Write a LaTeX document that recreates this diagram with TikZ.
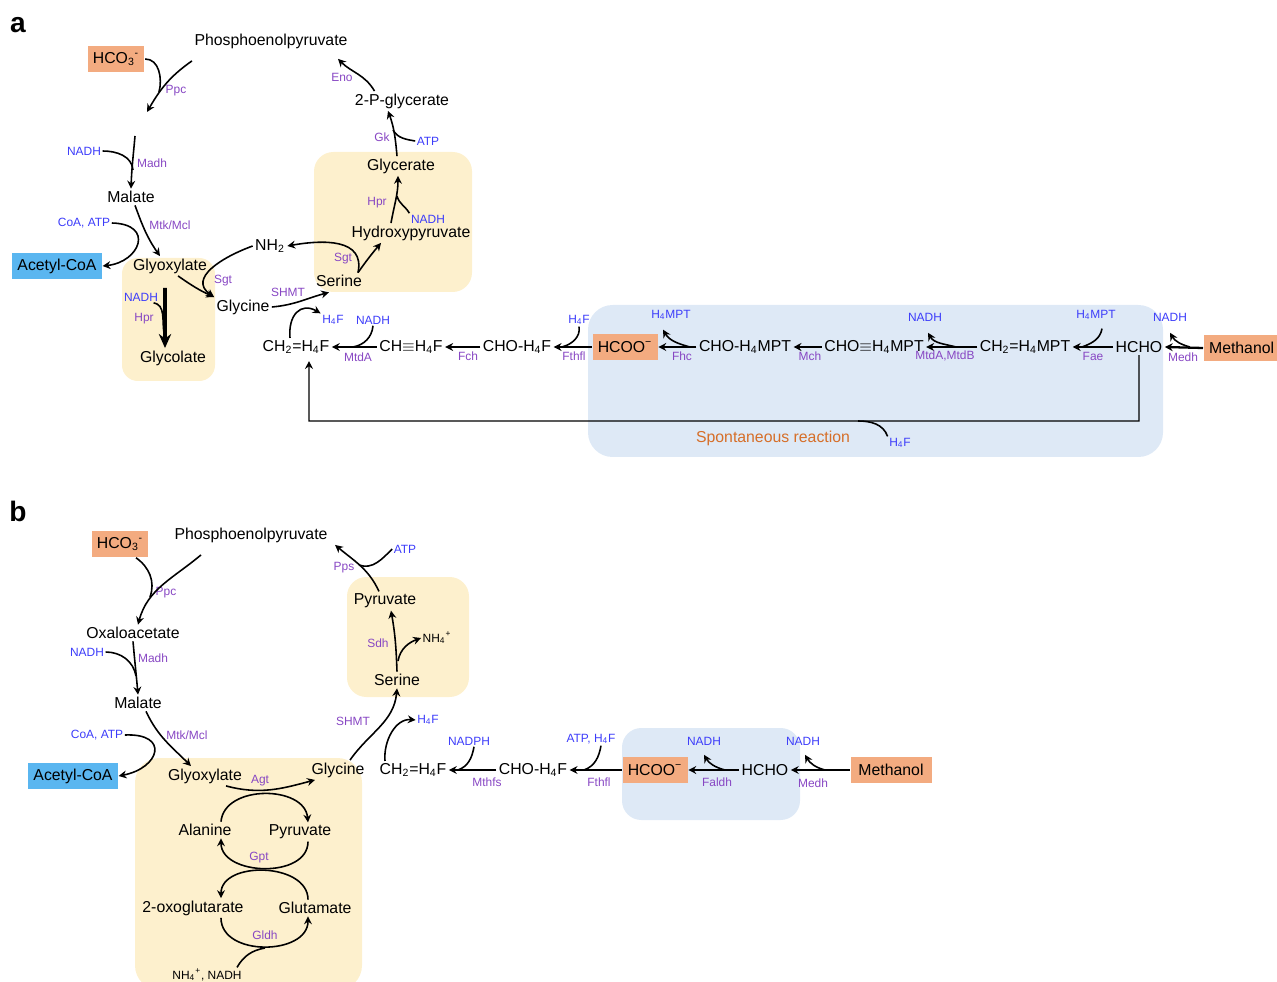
\documentclass[tikz,border=0pt]{standalone}
\usepackage{fontspec}
\setmainfont{Liberation Sans}
\usepackage{tikz}
\usetikzlibrary{calc, arrows.meta}
\usepackage{xcolor}
\definecolor{metOrange}{RGB}{243, 171, 128}
\definecolor{metBlue}{RGB}{90, 182, 240}
\definecolor{bgYellow}{RGB}{253, 240, 205}
\definecolor{bgBlue}{RGB}{222, 233, 246}
\definecolor{enzPurple}{RGB}{135, 70, 195}
\definecolor{cofBlue}{RGB}{60, 60, 250}
\definecolor{spontOrange}{RGB}{214, 110, 40}
\newcommand{\chsub}[1]{\textsubscript{#1}}
\newcommand{\chsup}[1]{\textsuperscript{#1}}

\begin{document}
\begin{tikzpicture}[x=0.02cm, y=0.02cm, line width=0.9pt,
  >={Stealth[length=4.5pt, width=4.5pt, inset=1.5pt]},
  met/.style={inner sep=1pt, font=\fontsize{9}{10}\selectfont},
  metbox/.style={met, fill=#1, inner xsep=3pt, minimum height=0.52cm},
  enz/.style={inner sep=0.5pt, font=\fontsize{6.8}{8}\selectfont, text=enzPurple},
  cof/.style={inner sep=0.5pt, font=\fontsize{6.8}{8}\selectfont, text=cofBlue},
  side/.style={inner sep=0.5pt, font=\fontsize{6.8}{8}\selectfont},
  chain/.style={->, line width=1.3pt},
  panel/.style={font=\fontsize{16}{16}\selectfont\bfseries}]
  \useasboundingbox (0,0) rectangle (1277,-982);

  % Shaded regions
  \fill[bgYellow, rounded corners=9pt] (122,-258) rectangle (215,-381);
  \fill[bgYellow, rounded corners=11pt] (314,-152) rectangle (472,-292);
  \fill[bgBlue, rounded corners=14pt] (588,-305) rectangle (1163,-457);
  \fill[bgYellow, rounded corners=11pt] (347,-577) rectangle (469,-697);
  \fill[bgYellow, rounded corners=14pt] (135,-758) rectangle (362,-990);
  \fill[bgBlue, rounded corners=11pt] (622,-728) rectangle (800,-820);

  % ---------------- Panel a ----------------
  \node[panel] (laba) at (18,-25) {a};
  \node[metbox=metOrange] (hco3a) at (116,-59) {HCO\chsub{3}\chsup{-}};
  \node[met] (pepa) at (271,-41) {Phosphoenolpyruvate};
  \node[met] (malatea) at (131,-197) {Malate};
  \node[metbox=metBlue] (acetyla) at (57,-266) {Acetyl-CoA};
  \node[met] (glyoxa) at (170,-266) {Glyoxylate};
  \node[met] (glycolatea) at (173,-358) {Glycolate};
  \node[met] (glycinea) at (243,-307) {Glycine};
  \node[met] (nh2a) at (270,-246) {NH\chsub{2}};
  \node[met] (serinea) at (339,-281) {Serine};
  \node[met] (hpyra) at (411,-233) {Hydroxypyruvate};
  \node[met] (glyceratea) at (401,-166) {Glycerate};
  \node[met] (pga) at (402,-101) {2-P-glycerate};

  % enzymes and cofactors
  \node[enz] (ppca) at (176,-91) {Ppc};
  \node[cof] (nadha1) at (84,-151) {NADH};
  \node[enz] (madha) at (152,-163) {Madh};
  \node[cof] (coaatpa) at (84,-223) {CoA, ATP};
  \node[enz] (mtka) at (170,-225) {Mtk/Mcl};
  \node[cof] (nadha2) at (141,-297) {NADH};
  \node[enz] (hpra1) at (144,-319) {Hpr};
  \node[enz] (sgta1) at (223,-281) {Sgt};
  \node[enz] (sgta2) at (343,-259) {Sgt};
  \node[enz] (shmta) at (288,-292) {SHMT};
  \node[cof] (h4fa1) at (333,-320) {H\chsub{4}F};
  \node[enz] (hpra2) at (377,-203) {Hpr};
  \node[cof] (nadha4) at (428,-219) {NADH};
  \node[enz] (gka) at (382,-137) {Gk};
  \node[cof] (atpa) at (428,-141) {ATP};
  \node[enz] (enoa) at (342,-77) {Eno};

  % carbon fixation and glyoxylate branch
  \coordinate (oaaa) at (147,-112);
  \coordinate (jppca) at (159,-92);
  \draw[->] ([yshift=-0.2cm]pepa.south west) to[out=215,in=60] (oaaa);
  \draw (hco3a.east) to[out=0,in=75] (jppca);
  \coordinate (oaaenda) at (135,-136);
  \coordinate (jmadha) at (133,-170);
  \draw[->] (oaaenda) to[out=-95,in=88] (malatea.north);
  \draw (nadha1.east) to[out=0,in=95] (jmadha);
  \draw[->] ([xshift=0.08cm]malatea.south) to[out=-70,in=125] ([xshift=-0.2cm]glyoxa.north);
  \draw[->] (coaatpa.east) .. controls (155,-224) and (140,-262) .. (acetyla.east);
  \draw[-{Stealth[length=8pt, width=7pt]}, line width=2pt, shorten <=0.24cm]
    ([xshift=-0.1cm]glyoxa.south) -- ([xshift=-0.16cm]glycolatea.north);
  \coordinate (jhpra) at (164,-333);
  \draw ([xshift=-0.12cm]nadha2.south east) to[out=-10,in=100] (jhpra);

  % serine cycle
  \draw[->] ([xshift=0.16cm]glyoxa.south) to[out=-35,in=155] (glycinea.north west);
  \draw[->] (nh2a.west) to[out=200,in=145, looseness=1.3] (glycinea.north west);
  \draw[->] ([xshift=0.38cm]serinea.north) to[out=78,in=10, looseness=1.2] (nh2a.east);
  \draw[->] ([xshift=0.38cm]serinea.north) to[out=55,in=230] ([xshift=-0.6cm]hpyra.south);
  \draw[->] (glycinea.east) to[out=5,in=195] ([xshift=-0.2cm,yshift=-0.06cm]serinea.south);
  \coordinate (jhprb) at (397,-196);
  \draw[->] ([xshift=-0.4cm]hpyra.north) to[out=80,in=-90] ([xshift=-0.06cm]glyceratea.south);
  \draw (nadha4.north west) to[out=120,in=-75] (jhprb);
  \coordinate (jgka) at (393,-130);
  \draw[->] ([xshift=-0.08cm]glyceratea.north) to[out=95,in=-70] ([xshift=-0.28cm]pga.south);
  \draw (atpa.west) to[out=170,in=-60] (jgka);
  \draw[->] ([xshift=-0.55cm]pga.north) to[out=120,in=-45] ([xshift=1.34cm,yshift=-0.16cm]pepa.south);

  % C1 chain
  \node[met] (ch2fa) at (296,-347) {CH\chsub{2}=H\chsub{4}F};
  \node[met] (chfa) at (411,-347) {CH$\equiv$H\chsub{4}F};
  \node[met] (chofa) at (517,-347) {CHO-H\chsub{4}F};
  \node[metbox=metOrange] (hcooa) at (625,-347) {HCOO\chsup{−}};
  \node[met] (chompta) at (745,-347) {CHO-H\chsub{4}MPT};
  \node[met] (chtmpta) at (874,-347) {CHO$\equiv$H\chsub{4}MPT};
  \node[met] (ch2mpta) at (1025,-347) {CH\chsub{2}=H\chsub{4}MPT};
  \node[met] (hchoa) at (1139,-347) {HCHO};
  \node[metbox=metOrange, anchor=west] (methanola) at (1203,-348) {Methanol};

  \draw[->] ([xshift=-0.12cm]ch2fa.north) to[out=95,in=150, looseness=1.5] (h4fa1.north west);
  \draw[chain] (chfa.west) -- (ch2fa.east);
  \draw[chain] (chofa.west) -- (chfa.east);
  \draw[chain] (hcooa.west) -- (chofa.east);
  \draw[chain] (chompta.west) -- (hcooa.east);
  \draw[chain] (chtmpta.west) -- (chompta.east);
  \draw[chain] (ch2mpta.west) -- (chtmpta.east);
  \draw[chain] (hchoa.west) -- (ch2mpta.east);
  \draw[chain] (methanola.west) -- (hchoa.east);

  \node[cof] (nadha3) at (373,-320) {NADH};
  \node[enz] (mtda) at (358,-357) {MtdA};
  \node[enz] (fcha) at (468,-356) {Fch};
  \node[cof] (h4fa2) at (579,-320) {H\chsub{4}F};
  \node[enz] (fthfla) at (574,-356) {Fthfl};
  \node[cof] (h4mpta1) at (671,-315) {H\chsub{4}MPT};
  \node[enz] (fhca) at (682,-356) {Fhc};
  \node[enz] (mcha) at (810,-356) {Mch};
  \node[cof] (nadha5) at (925,-317) {NADH};
  \node[enz] (mtdba) at (945,-356) {MtdA,MtdB};
  \node[cof] (h4mpta2) at (1096,-315) {H\chsub{4}MPT};
  \node[enz] (faea) at (1093,-356) {Fae};
  \node[cof] (nadha6) at (1170,-317) {NADH};
  \node[enz] (medha) at (1183,-357) {Medh};

  \coordinate (jmtda) at (353,-347);
  \draw (nadha3.south) to[out=-95,in=10] (jmtda);
  \coordinate (jfthfla) at (562,-347);
  \draw (h4fa2.south) to[out=-80,in=15] (jfthfla);
  \coordinate (jfhca) at (690,-347);
  \draw[->] (jfhca) to[out=165,in=-60] ([xshift=-0.16cm,yshift=-0.16cm]h4mpta1.south);
  \coordinate (jmtdb) at (956,-347);
  \draw[->] (jmtdb) to[out=165,in=-60] ([xshift=0.06cm,yshift=-0.2cm]nadha5.south);
  \coordinate (jfaea) at (1082,-347);
  \draw ([xshift=0.12cm,yshift=-0.14cm]h4mpta2.south) to[out=-100,in=20] (jfaea);
  \coordinate (jmedha) at (1190,-347);
  \draw[->] (jmedha) to[out=165,in=-60] ([yshift=-0.2cm]nadha6.south);

  % spontaneous condensation
  \coordinate (spa1) at (1139,-421);
  \coordinate (spa2) at (309,-421);
  \draw[->, line width=0.8pt] (hchoa.south) -- (spa1) -- (spa2) -- ([xshift=0.26cm,yshift=-0.1cm]ch2fa.south);
  \node[met, text=spontOrange] (sponta) at (773,-438) {Spontaneous reaction};
  \node[cof] (h4fa3) at (900,-443) {H\chsub{4}F};
  \coordinate (jspa) at (858,-421);
  \draw (jspa) to[out=0,in=110] (h4fa3.north west);

  % ---------------- Panel b ----------------
  \node[panel] (labb) at (18,-511) {b};
  \node[metbox=metOrange] (hco3b) at (120,-544) {HCO\chsub{3}\chsup{-}};
  \node[met] (pepb) at (251,-535) {Phosphoenolpyruvate};
  \node[met] (oaab) at (133,-633) {Oxaloacetate};
  \node[met] (malateb) at (138,-703) {Malate};
  \node[metbox=metBlue] (acetylb) at (73,-776) {Acetyl-CoA};
  \node[met] (glyoxb) at (205,-776) {Glyoxylate};
  \node[met] (glycineb) at (338,-770) {Glycine};
  \node[met] (alanineb) at (205,-830) {Alanine};
  \node[met] (pyrub1) at (300,-832) {Pyruvate};
  \node[met] (oxoglub) at (193,-908) {2-oxoglutarate};
  \node[met] (glutb) at (315,-908) {Glutamate};
  \node[met] (serineb) at (397,-680) {Serine};
  \node[met] (pyrub2) at (385,-601) {Pyruvate};

  \node[enz] (ppcb) at (166,-593) {Ppc};
  \node[cof] (nadhb1) at (87,-652) {NADH};
  \node[enz] (madhb) at (153,-658) {Madh};
  \node[cof] (coaatpb) at (97,-735) {CoA, ATP};
  \node[enz] (mtkb) at (187,-735) {Mtk/Mcl};
  \node[enz] (agtb) at (260,-781) {Agt};
  \node[enz] (gptb) at (259,-858) {Gpt};
  \node[enz] (gldhb) at (265,-935) {Gldh};
  \node[side] (nh4nadhb) at (207,-975) {NH\chsub{4}\chsup{+}, NADH};
  \node[enz] (shmtb) at (353,-721) {SHMT};
  \node[cof] (h4fb) at (428,-720) {H\chsub{4}F};
  \node[enz] (sdhb) at (378,-643) {Sdh};
  \node[side] (nh4b) at (437,-638) {NH\chsub{4}\chsup{+}};
  \node[enz] (ppsb) at (344,-568) {Pps};
  \node[cof] (atpb) at (405,-549) {ATP};

  % carbon fixation and glyoxylate branch
  \coordinate (jppcb) at (150,-597);
  \draw[->] ([xshift=-1.0cm,yshift=-0.2cm]pepb.south) to[out=220,in=75] ([xshift=0.1cm]oaab.north);
  \draw ([xshift=0.32cm]hco3b.south) to[out=-35,in=70] (jppcb);
  \coordinate (jmadhb) at (136,-676);
  \draw[->] (oaab.south) to[out=-85,in=95] (malateb.north);
  \draw (nadhb1.east) to[out=0,in=100] (jmadhb);
  \draw[->] ([xshift=0.16cm]malateb.south) to[out=-65,in=135] ([xshift=-0.28cm]glyoxb.north);
  \draw[->] (coaatpb.east) .. controls (170,-733) and (160,-768) .. (acetylb.east);

  % transamination loops
  \draw[->] ([xshift=0.42cm]glyoxb.south) to[out=-15,in=195] ([xshift=-0.46cm]glycineb.south);
  \draw[->] ([xshift=0.32cm]alanineb.north) to[out=85,in=95,looseness=1.1] ([xshift=0.16cm]pyrub1.north);
  \draw[->] ([xshift=0.16cm]pyrub1.south) to[out=-90,in=-90,looseness=1.1] ([xshift=0.32cm]alanineb.south);
  \draw[->] ([xshift=-0.14cm]glutb.north) to[out=90,in=90,looseness=1.1] ([xshift=0.56cm]oxoglub.north);
  \draw[->] ([xshift=0.56cm]oxoglub.south) to[out=-90,in=-90,looseness=1.15] ([xshift=-0.14cm]glutb.south);
  \coordinate (jgldhb) at (265,-948);
  \draw ([xshift=0.6cm]nh4nadhb.north) to[out=60,in=190] (jgldhb);

  % serine to phosphoenolpyruvate
  \node[met] (ch2fb) at (413,-770) {CH\chsub{2}=H\chsub{4}F};
  \draw[->] ([xshift=0.24cm]glycineb.north) to[out=55,in=-95] (serineb.south);
  \draw[->] ([xshift=-0.56cm]ch2fb.north) to[out=95,in=175] (h4fb.west);
  \coordinate (jsdhb) at (398,-661);
  \draw[->] (serineb.north) to[out=92,in=-80] ([xshift=0.12cm]pyrub2.south);
  \draw[->] (jsdhb) to[out=80,in=200] (nh4b.west);
  \coordinate (jppsb) at (359,-565);
  \draw[->] ([xshift=-0.12cm]pyrub2.north) to[out=115,in=-40] ([xshift=0.1cm]pepb.south east);
  \draw (atpb.west) to[out=225,in=-20] (jppsb);

  % C1 chain
  \node[met] (chofb) at (533,-770) {CHO-H\chsub{4}F};
  \node[metbox=metOrange] (hcoob) at (655,-770) {HCOO\chsup{−}};
  \node[met] (hchob) at (765,-770) {HCHO};
  \node[metbox=metOrange, minimum width=1.62cm] (methanolb) at (891,-770) {Methanol};
  \draw[chain] (chofb.west) -- (ch2fb.east);
  \draw[chain] (hcoob.west) -- (chofb.east);
  \draw[chain] (hchob.west) -- (hcoob.east);
  \draw[chain] (methanolb.west) -- (hchob.east);

  \node[cof] (nadphb) at (469,-741) {NADPH};
  \node[enz] (mthfsb) at (487,-782) {Mthfs};
  \node[cof] (atph4fb) at (591,-739) {ATP, H\chsub{4}F};
  \node[enz] (fthflb) at (599,-782) {Fthfl};
  \node[cof] (nadhb2) at (704,-741) {NADH};
  \node[enz] (faldhb) at (717,-782) {Faldh};
  \node[cof] (nadhb3) at (803,-741) {NADH};
  \node[enz] (medhb) at (813,-783) {Medh};

  \coordinate (jmthfsb) at (458,-770);
  \draw ([xshift=0.1cm]nadphb.south) to[out=-100,in=20] (jmthfsb);
  \coordinate (jfthflb) at (584,-770);
  \draw ([xshift=0.2cm]atph4fb.south) to[out=-100,in=20] (jfthflb);
  \coordinate (jfaldhb) at (725,-770);
  \draw[->] (jfaldhb) to[out=165,in=-60] ([yshift=-0.16cm]nadhb2.south);
  \coordinate (jmedhb) at (825,-770);
  \draw[->] (jmedhb) to[out=165,in=-60] ([xshift=0.04cm,yshift=-0.16cm]nadhb3.south);
\end{tikzpicture}
\end{document}
